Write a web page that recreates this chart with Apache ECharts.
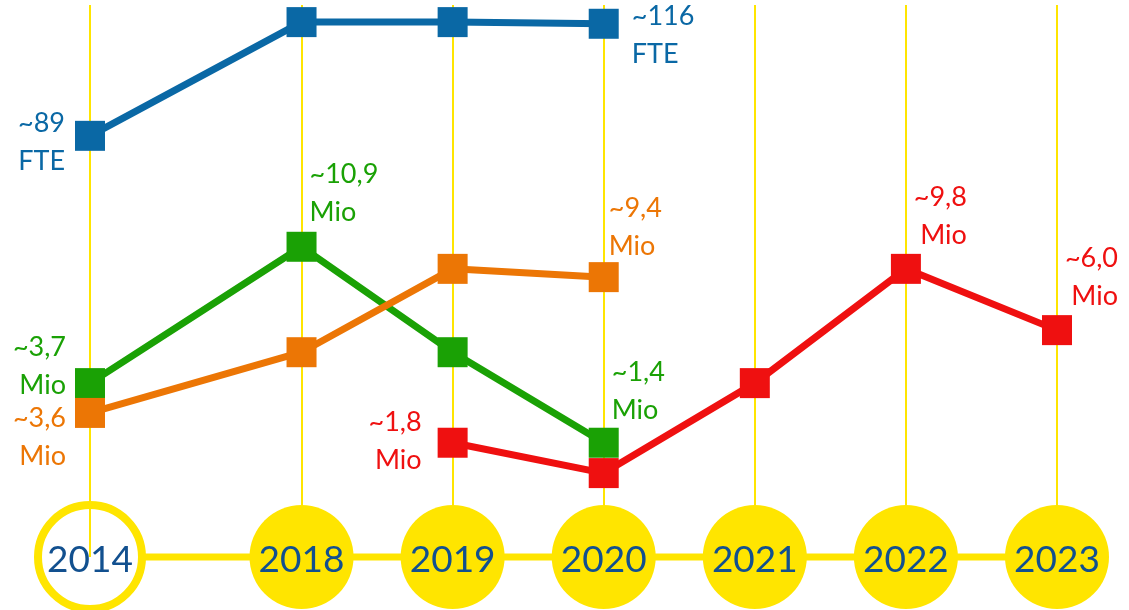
<!DOCTYPE html>
<html>
<head>
<meta charset="utf-8">
<script src="https://cdn.jsdelivr.net/npm/echarts@6/dist/echarts.min.js"></script>
<style>
  html, body { margin: 0; padding: 0; background: #fff; }
  #chart { width: 1129px; height: 610px; }
</style>
</head>
<body>
<div id="chart"></div>
<script>
// years on the timeline and their horizontal slot (2014 -> 2018 gap is wider)
const years = ['2014', '2018', '2019', '2020', '2021', '2022', '2023'];
const xPos = [0, 1.4, 2.4, 3.4, 4.4, 5.4, 6.4];

// plotted heights (schematic level 0..100), null = no point
const fteLevel    = [76.3, 96.9, 96.9, 96.6, null, null, null];
const greenLevel  = [31.5, 56.2, 37.1, 20.7, null, null, null];
const orangeLevel = [26.1, 37.1, 52.2, 50.7, null, null, null];
const redLevel    = [null, null, 20.7, 15.2, 31.5, 52.2, 41.1];

// annotation texts
const fteLabels    = ['~89\nFTE', '', '', '~116\nFTE', '', '', ''];
const greenLabels  = ['~3,7\nMio', '~10,9\nMio', '', '~1,4\nMio', '', '', ''];
const orangeLabels = ['~3,6\nMio', '', '', '~9,4\nMio', '', '', ''];
const redLabels    = ['', '', '~1,8\nMio', '', '', '~9,8\nMio', '~6,0\nMio'];

const YELLOW = '#FFE500';
const YEAR_BLUE = '#12508F';
const FONT = 'Lato';

// label placement per point: [dx, dy, align] relative to the marker box
const labelPlace = {
  fte:    { 0: [-10, 21, 'right'], 3: [43, 27, 'left'] },
  green:  { 0: [-9, -2, 'right'], 1: [23, -38, 'left'], 3: [23, -36, 'left'] },
  orange: { 0: [-9, 39, 'right'], 3: [20, -35, 'left'] },
  red:    { 2: [-16, 14, 'right'], 5: [76, -38, 'right'], 6: [76, -38, 'right'] }
};

function makeSeries(name, levels, labels, color, place) {
  const data = [];
  levels.forEach((v, i) => {
    if (v === null) return;
    const item = { value: [xPos[i], v] };
    const p = place[i];
    if (p && labels[i]) {
      item.label = {
        show: true,
        formatter: labels[i],
        position: [p[0], p[1]],
        align: p[2],
        verticalAlign: 'middle',
        color: color,
        fontSize: 27,
        lineHeight: 38,
        fontFamily: FONT
      };
    }
    data.push(item);
  });
  return {
    name,
    type: 'line',
    data,
    symbol: 'rect',
    symbolSize: 30,
    clip: false,
    lineStyle: { color, width: 7 },
    itemStyle: { color },
    label: { show: false },
    z: 5
  };
}

const chart = echarts.init(document.getElementById('chart'));

const option = {
  animation: false,
  grid: { left: 90, right: 72, top: 5, bottom: 53 },
  xAxis: { type: 'value', min: 0, max: 6.4, show: false },
  yAxis: { type: 'value', min: 0, max: 100, show: false },
  series: [
    {
      name: 'timeline',
      type: 'line',
      data: xPos.map(x => [x, 0]),
      symbol: 'none',
      clip: false,
      lineStyle: { color: YELLOW, width: 7 },
      z: 1,
      markLine: {
        silent: true,
        symbol: 'none',
        label: { show: false },
        lineStyle: { color: YELLOW, width: 2, type: 'solid' },
        data: xPos.map(x => ({ xAxis: x }))
      }
    },
    makeSeries('FTE', fteLevel, fteLabels, '#0A68A5', labelPlace.fte),
    makeSeries('green', greenLevel, greenLabels, '#1AA105', labelPlace.green),
    makeSeries('orange', orangeLevel, orangeLabels, '#EC7605', labelPlace.orange),
    makeSeries('red', redLevel, redLabels, '#EF1010', labelPlace.red),
    {
      name: 'years',
      type: 'scatter',
      clip: false,
      z: 3,
      symbol: 'circle',
      data: years.map((y, i) => ({
        value: [xPos[i], 0],
        name: y,
        symbolSize: 104,
        itemStyle: i === 0
          ? { color: '#fff', borderColor: YELLOW, borderWidth: 8, opacity: 1 }
          : { color: YELLOW, opacity: 1 }
      })),
      label: {
        show: true,
        position: 'inside',
        offset: [0, 3],
        formatter: p => p.name,
        color: YEAR_BLUE,
        fontSize: 37,
        fontFamily: FONT
      }
    }
  ]
};

chart.setOption(option);
</script>
</body>
</html>
